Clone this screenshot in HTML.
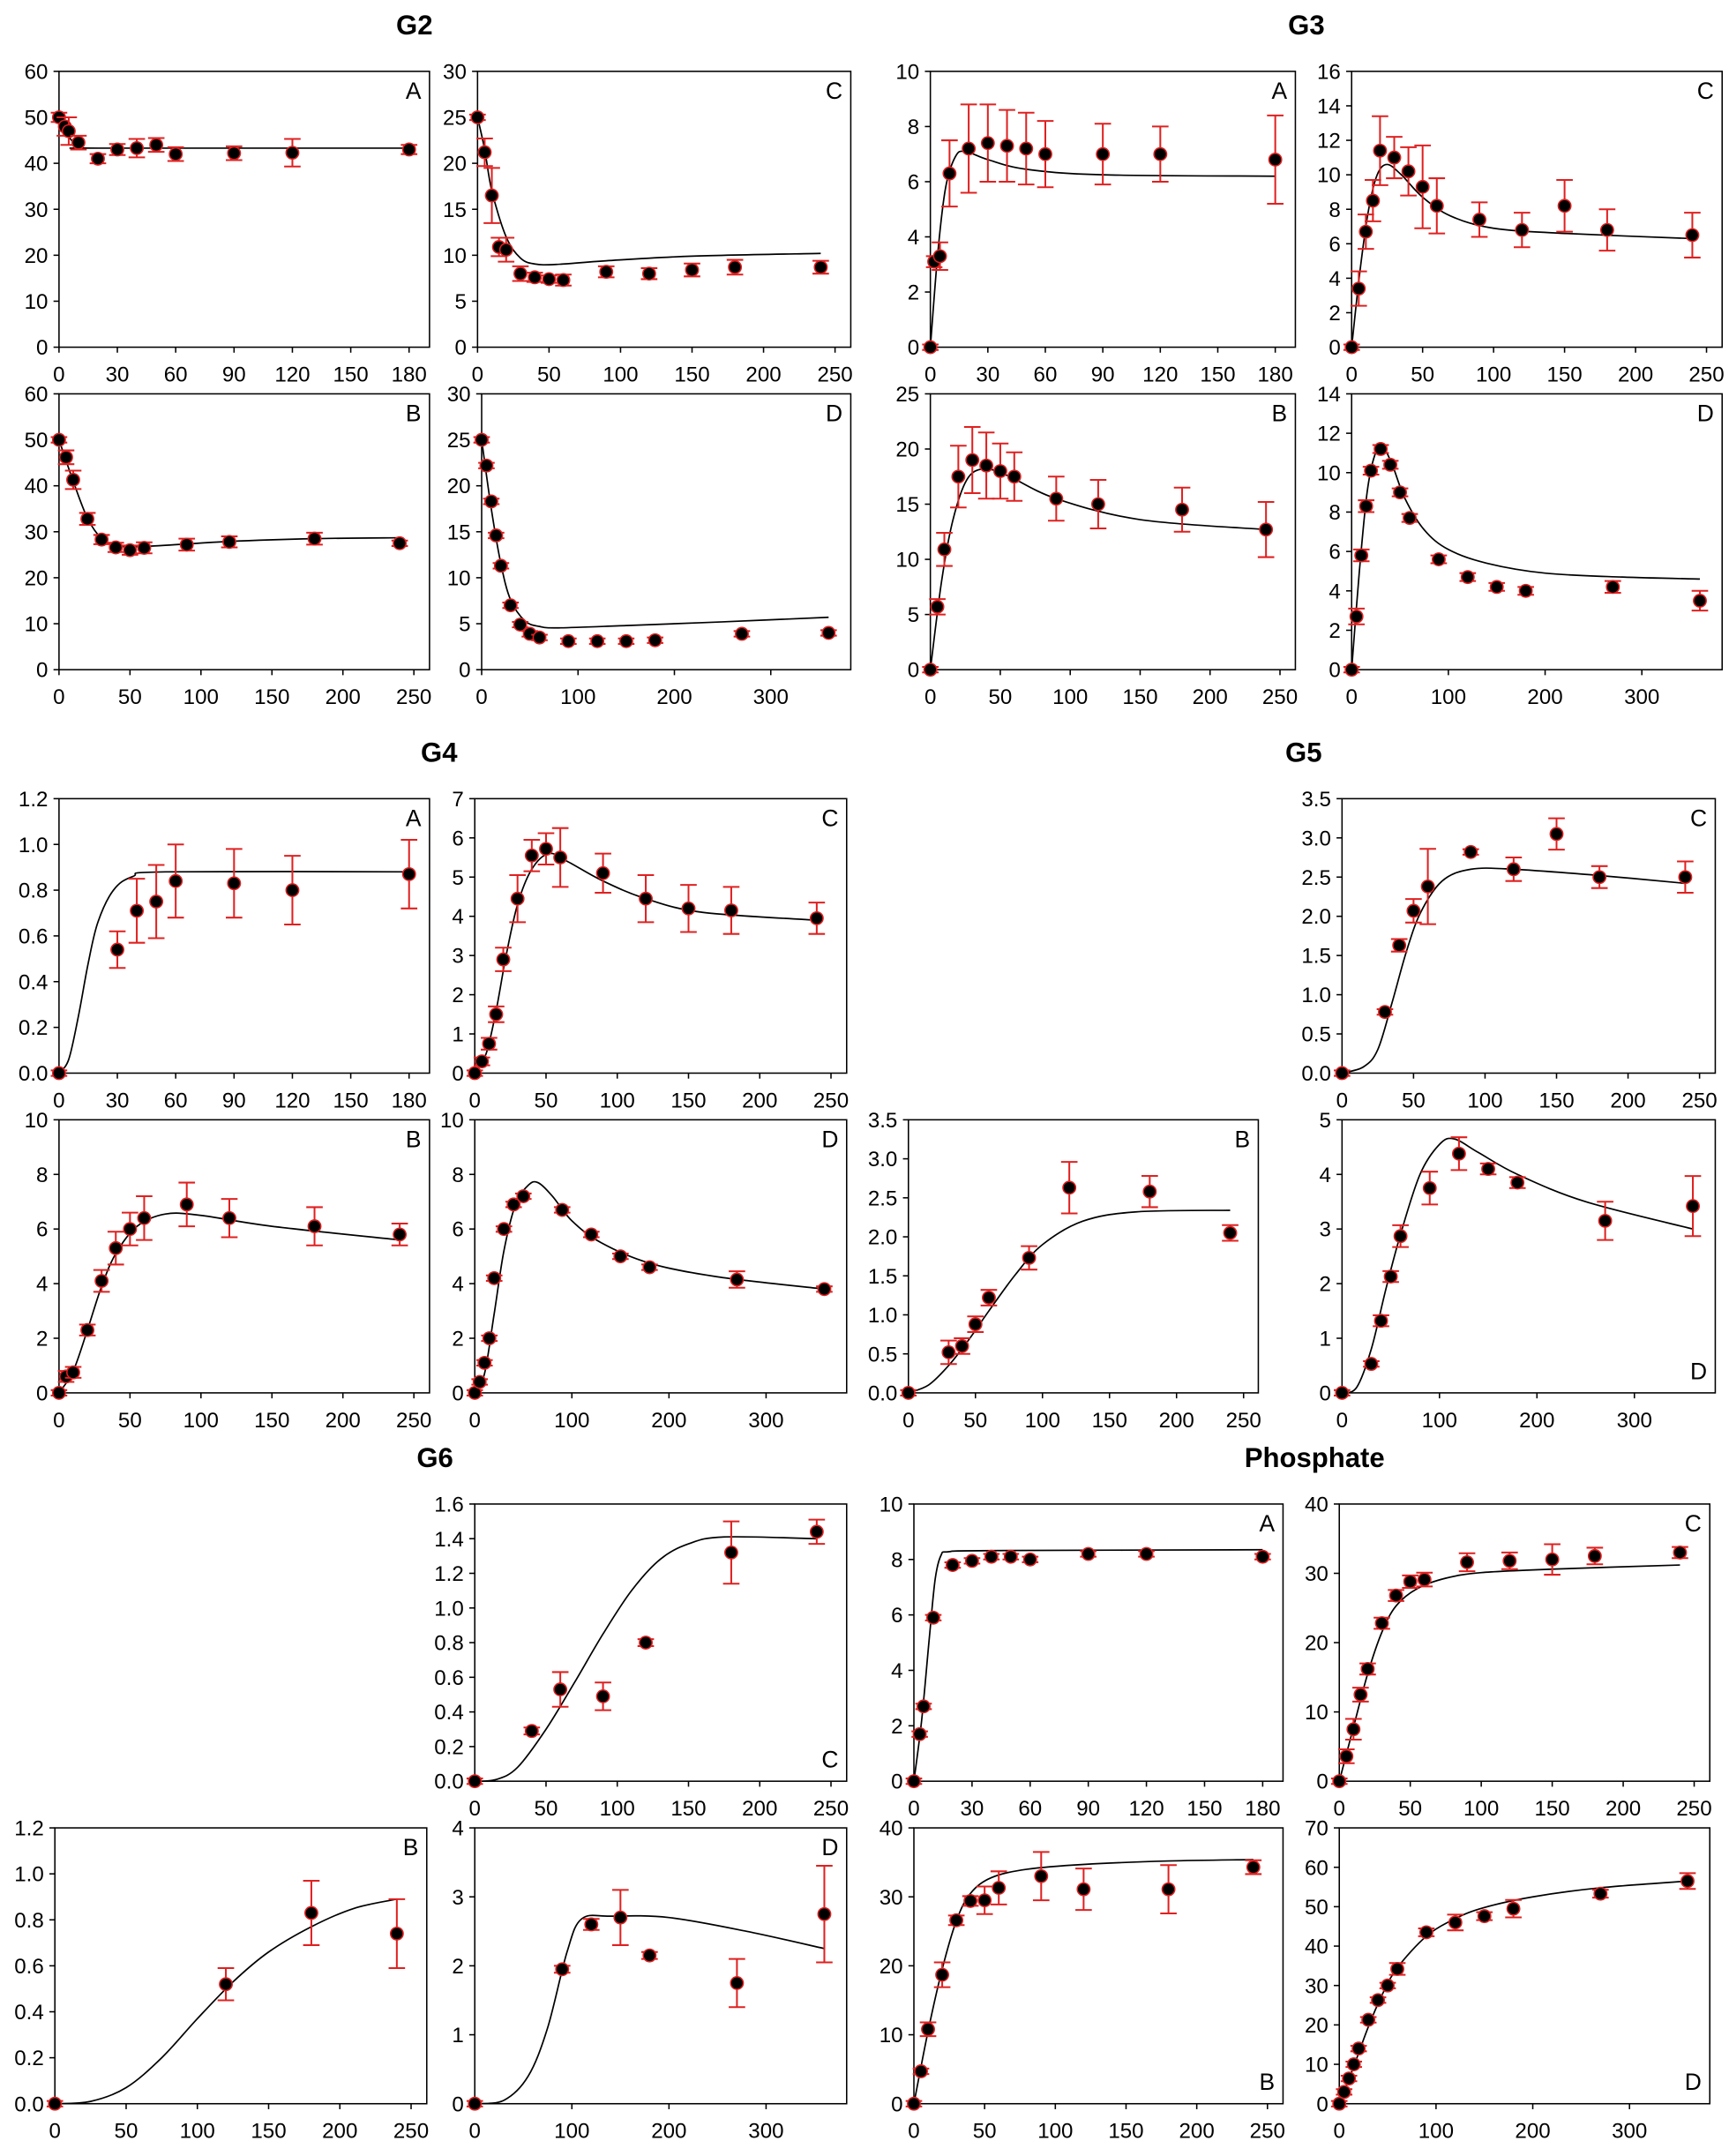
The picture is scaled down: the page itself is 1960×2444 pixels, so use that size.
<!DOCTYPE html>
<html><head><meta charset="utf-8"><style>
html,body{margin:0;padding:0;background:#fff;}
svg{display:block;}
text{font-family:"Liberation Sans",Arial,sans-serif;}
</style></head><body>
<svg id="s" xmlns="http://www.w3.org/2000/svg" width="1960" height="2444" viewBox="0 0 1260 1571.1" preserveAspectRatio="none">
<rect width="1260" height="1572" fill="#fff"/>
<text x="302" y="25" font-size="20" font-weight="bold" text-anchor="middle">G2</text>
<text x="952" y="25" font-size="20" font-weight="bold" text-anchor="middle">G3</text>
<text x="320" y="555" font-size="20" font-weight="bold" text-anchor="middle">G4</text>
<text x="950" y="555" font-size="20" font-weight="bold" text-anchor="middle">G5</text>
<text x="317" y="1069" font-size="20" font-weight="bold" text-anchor="middle">G6</text>
<text x="958" y="1069" font-size="20" font-weight="bold" text-anchor="middle">Phosphate</text>
</svg>
<script>
var S=document.getElementById('s'),out='';
function P(o){
 var x0=o.b[0],x1=o.b[1],y0=o.b[2],y1=o.b[3];
 var xm=o.xm==180?190.5:(o.xm==250?261:383);
 var X=function(v){return x0+(v/xm)*(x1-x0);},Y=function(v){return y1-(v/o.ym)*(y1-y0);};
 var s='';
 s+='<rect x="'+x0+'" y="'+y0+'" width="'+(x1-x0)+'" height="'+(y1-y0)+'" fill="none" stroke="#000" stroke-width="1"/>';
 o.xt.forEach(function(t){var xx=X(t);s+='<line x1="'+xx+'" y1="'+y1+'" x2="'+xx+'" y2="'+(y1+4)+'" stroke="#000" stroke-width="1"/><text x="'+xx+'" y="'+(y1+25)+'" font-size="15.5" text-anchor="middle">'+t+'</text>';});
 var n=Math.round(o.ym/o.ys);
 for(var i=0;i<=n;i++){var v=i*o.ys,yy=Y(v);s+='<line x1="'+(x0-4)+'" y1="'+yy+'" x2="'+x0+'" y2="'+yy+'" stroke="#000" stroke-width="1"/><text x="'+(x0-8)+'" y="'+(yy+5.5)+'" font-size="15.5" text-anchor="end">'+(o.dec?v.toFixed(1):Math.round(v))+'</text>';}
 var c=o.c.map(function(p){return [X(p[0]),Y(p[1])];});
 var d='M'+c[0][0]+','+c[0][1];
 for(var i=0;i<c.length-1;i++){var p0=c[i-1]||c[i],p1=c[i],p2=c[i+1],p3=c[i+2]||c[i+1];
  d+=' C'+(p1[0]+(p2[0]-p0[0])/6)+','+(p1[1]+(p2[1]-p0[1])/6)+' '+(p2[0]-(p3[0]-p1[0])/6)+','+(p2[1]-(p3[1]-p1[1])/6)+' '+p2[0]+','+p2[1];}
 s+='<path d="'+d+'" fill="none" stroke="#000" stroke-width="1.1"/>';
 o.p.forEach(function(p){var xx=X(p[0]),yy=Y(p[1]),e=p[2]||0.0;var eh=Math.max((e/o.ym)*(y1-y0),2);
  s+='<line x1="'+xx+'" y1="'+(yy-eh)+'" x2="'+xx+'" y2="'+(yy+eh)+'" stroke="#e02020" stroke-width="1.3"/>';
  s+='<line x1="'+(xx-6)+'" y1="'+(yy-eh)+'" x2="'+(xx+6)+'" y2="'+(yy-eh)+'" stroke="#e02020" stroke-width="1.3"/>';
  s+='<line x1="'+(xx-6)+'" y1="'+(yy+eh)+'" x2="'+(xx+6)+'" y2="'+(yy+eh)+'" stroke="#e02020" stroke-width="1.3"/>';
  s+='<circle cx="'+xx+'" cy="'+yy+'" r="4.6" fill="#000" stroke="#e02020" stroke-width="1"/>';});
 var ly=o.lb?y1-10:y0+20;
 s+='<text x="'+(x1-6)+'" y="'+ly+'" font-size="17" text-anchor="end">'+o.L+'</text>';
 out+=s;
}
var T180=[0,30,60,90,120,150,180],T250=[0,50,100,150,200,250],T360=[0,100,200,300];
var R1=[52,253],R2=[287,488],R3=[582,782],R4=[816,1015],R5=[1096,1298],R6=[1332,1533];
function B(a,b,r){return [a,b,r[0],r[1]];}
P({b:B(43,313,R1),xm:180,ym:60,ys:10,xt:T180,L:'A',
 p:[[0,50,1],[3,48,2],[5,47,3],[10,44.5,1.5],[20,41,1],[30,43,1.2],[40,43.3,2],[50,44,1.5],[60,42,1.5],[90,42.2,1.5],[120,42.3,3],[180,43,1]],
 c:[[0,50],[4,46.5],[8,44.3],[12,43.4],[20,43.3],[180,43.3]]});
P({b:B(348,620,R1),xm:250,ym:30,ys:5,xt:T250,L:'C',
 p:[[0,25,.3],[5,21.2,1.5],[10,16.5,3],[15,10.9,1],[20,10.6,1.3],[30,8,.8],[40,7.6,.5],[50,7.4,.4],[60,7.3,.6],[90,8.2,.6],[120,8,.6],[150,8.4,.7],[180,8.7,.8],[240,8.7,.7]],
 c:[[0,25],[5,21.5],[10,17],[20,12],[30,9.7],[40,9.05],[55,9],[90,9.4],[150,9.9],[240,10.2]]});
P({b:B(43,313,R2),xm:250,ym:60,ys:10,xt:T250,L:'B',
 p:[[0,50,.5],[5,46.2,1.5],[10,41.3,2],[20,32.8,1.3],[30,28.3,1],[40,26.6,1],[50,26,1],[60,26.5,1.2],[90,27.2,1.3],[120,27.8,1.2],[180,28.5,1.3],[240,27.5,.5]],
 c:[[0,50],[10,41],[20,33],[30,28.5],[40,27],[60,26.8],[120,27.9],[180,28.5],[240,28.7]]});
P({b:B(351,620,R2),xm:360,ym:30,ys:5,xt:T360,L:'D',
 p:[[0,25],[5,22.2],[10,18.3],[15,14.6],[20,11.3],[30,7],[40,4.9],[50,3.9],[60,3.5],[90,3.1],[120,3.1],[150,3.1],[180,3.2],[270,3.9],[360,4]],
 c:[[0,25],[10,17.5],[20,11.5],[30,7.6],[45,5.3],[60,4.7],[80,4.55],[150,4.8],[250,5.2],[360,5.7]]});
P({b:B(678,944,R1),xm:180,ym:10,ys:2,xt:T180,L:'A',
 p:[[0,0],[2,3.1,.2],[5,3.3,.5],[10,6.3,1.2],[20,7.2,1.6],[30,7.4,1.4],[40,7.3,1.3],[50,7.2,1.3],[60,7,1.2],[90,7,1.1],[120,7,1],[180,6.8,1.6]],
 c:[[0,0],[4,3.5],[8,5.8],[13,6.9],[18,7.1],[30,6.8],[50,6.45],[90,6.25],[180,6.2]]});
P({b:B(985,1255,R1),xm:250,ym:16,ys:2,xt:T250,L:'C',
 p:[[0,0],[5,3.4,1],[10,6.7,1],[15,8.5,1.2],[20,11.4,2],[30,11,1.2],[40,10.2,1.4],[50,9.3,2.4],[60,8.2,1.6],[90,7.4,1],[120,6.8,1],[150,8.2,1.5],[180,6.8,1.2],[240,6.5,1.3]],
 c:[[0,0],[6,4.5],[12,8],[18,10],[25,10.6],[35,10],[50,8.7],[70,7.6],[100,6.9],[150,6.6],[240,6.3]]});
P({b:B(678,944,R2),xm:250,ym:25,ys:5,xt:T250,L:'B',
 p:[[0,0],[5,5.7,.7],[10,10.9,1.5],[20,17.5,2.8],[30,19,3],[40,18.5,3],[50,18,2.5],[60,17.5,2.2],[90,15.5,2],[120,15,2.2],[180,14.5,2],[240,12.7,2.5]],
 c:[[0,0],[8,8],[16,13.5],[26,17.2],[38,18.2],[55,17.6],[90,15.5],[150,13.6],[240,12.7]]});
P({b:B(985,1255,R2),xm:360,ym:14,ys:2,xt:T360,L:'D',
 p:[[0,0],[5,2.7,.4],[10,5.8,.3],[15,8.3,.3],[20,10.1,.2],[30,11.2,.2],[40,10.4,.2],[50,9,.2],[60,7.7,.2],[90,5.6,.2],[120,4.7,.2],[150,4.2,.2],[180,4,.2],[270,4.2,.3],[360,3.5,.5]],
 c:[[0,0],[8,5],[16,9],[24,10.9],[32,11.3],[42,10.4],[55,8.7],[75,7.1],[100,6.1],[140,5.4],[200,4.9],[280,4.7],[360,4.6]]});
P({b:B(43,313,R3),xm:180,ym:1.2,ys:.2,dec:1,xt:T180,L:'A',
 p:[[0,0],[30,.54,.08],[40,.71,.14],[50,.75,.16],[60,.84,.16],[90,.83,.15],[120,.8,.15],[180,.87,.15]],
 c:[[0,0],[5,.06],[10,.25],[15,.48],[20,.66],[28,.8],[38,.86],[55,.88],[180,.88]]});
P({b:B(346,617,R3),xm:250,ym:7,ys:1,xt:T250,L:'C',
 p:[[0,0],[5,.3,.1],[10,.75,.15],[15,1.5,.2],[20,2.9,.3],[30,4.45,.6],[40,5.55,.4],[50,5.72,.4],[60,5.5,.75],[90,5.1,.5],[120,4.45,.6],[150,4.2,.6],[180,4.15,.6],[240,3.95,.4]],
 c:[[0,0],[8,.5],[15,1.6],[22,3],[30,4.3],[40,5.2],[52,5.6],[65,5.4],[90,4.9],[120,4.45],[160,4.1],[240,3.9]]});
P({b:B(43,313,R4),xm:250,ym:10,ys:2,xt:T250,L:'B',
 p:[[0,0],[5,.6,.2],[10,.75,.2],[20,2.3,.2],[30,4.1,.4],[40,5.3,.6],[50,6,.6],[60,6.4,.8],[90,6.9,.8],[120,6.4,.7],[180,6.1,.7],[240,5.8,.4]],
 c:[[0,0],[10,.8],[20,2.3],[30,3.9],[40,5.1],[55,6.1],[75,6.55],[100,6.5],[150,6.1],[240,5.6]]});
P({b:B(346,617,R4),xm:360,ym:10,ys:2,xt:T360,L:'D',
 p:[[0,0],[5,.4],[10,1.1],[15,2],[20,4.2],[30,6],[40,6.9],[50,7.2],[90,6.7],[120,5.8],[150,5],[180,4.6],[270,4.15,.3],[360,3.8]],
 c:[[0,0],[10,.7],[20,2.9],[30,5.2],[42,6.9],[55,7.6],[65,7.7],[80,7.2],[100,6.3],[130,5.5],[180,4.75],[250,4.25],[360,3.8]]});
P({b:B(978,1250,R3),xm:250,ym:3.5,ys:.5,dec:1,xt:T250,L:'C',
 p:[[0,0],[30,.78,.03],[40,1.63,.08],[50,2.07,.15],[60,2.38,.48],[90,2.82,.03],[120,2.6,.15],[150,3.05,.2],[180,2.5,.14],[240,2.5,.2]],
 c:[[0,0],[15,.08],[25,.3],[35,.9],[45,1.55],[55,2.05],[70,2.45],[90,2.6],[120,2.6],[180,2.52],[240,2.42]]});
P({b:B(662,917,R4),xm:250,ym:3.5,ys:.5,dec:1,xt:T250,L:'B',
 p:[[0,0],[30,.52,.15],[40,.6,.1],[50,.88,.1],[60,1.22,.1],[90,1.73,.15],[120,2.63,.33],[180,2.58,.2],[240,2.05,.1]],
 c:[[0,0],[15,.1],[30,.35],[45,.68],[60,1.05],[80,1.52],[100,1.9],[130,2.2],[170,2.32],[240,2.34]]});
P({b:B(978,1250,R4),xm:360,ym:5,ys:1,xt:T360,L:'D',lb:1,
 p:[[0,0],[30,.53,.05],[40,1.32,.1],[50,2.13,.1],[60,2.87,.2],[90,3.75,.3],[120,4.38,.3],[150,4.1,.1],[180,3.85,.1],[270,3.15,.35],[360,3.42,.55]],
 c:[[0,0],[15,.1],[30,.8],[45,1.9],[60,2.9],[80,4],[100,4.55],[115,4.65],[140,4.4],[180,4.0],[250,3.5],[360,3.0]]});
P({b:B(346,617,R5),xm:250,ym:1.6,ys:.2,dec:1,xt:T250,L:'C',lb:1,
 p:[[0,0],[40,.29,.02],[60,.53,.1],[90,.49,.08],[120,.8,.02],[180,1.32,.18],[240,1.44,.07]],
 c:[[0,0],[15,.01],[30,.08],[50,.3],[70,.57],[90,.85],[110,1.1],[130,1.28],[150,1.37],[175,1.41],[240,1.4]]});
P({b:B(40,311,R6),xm:250,ym:1.2,ys:.2,dec:1,xt:T250,L:'B',
 p:[[0,0],[120,.52,.07],[180,.83,.14],[240,.74,.15]],
 c:[[0,0],[25,.01],[50,.07],[75,.2],[100,.37],[125,.53],[150,.66],[180,.77],[210,.85],[240,.89]]});
P({b:B(346,617,R6),xm:360,ym:4,ys:1,xt:T360,L:'D',
 p:[[0,0],[90,1.95,.05],[120,2.6,.08],[150,2.7,.4],[180,2.15,.05],[270,1.75,.35],[360,2.75,.7]],
 c:[[0,0],[30,.05],[55,.4],[75,1.1],[95,2.2],[110,2.68],[140,2.72],[200,2.7],[280,2.5],[360,2.25]]});
P({b:B(666,935,R5),xm:180,ym:10,ys:2,xt:T180,L:'A',
 p:[[0,0],[3,1.7],[5,2.7],[10,5.9],[20,7.8],[30,7.95],[40,8.1],[50,8.1],[60,8],[90,8.2],[120,8.2],[180,8.1]],
 c:[[0,0],[4,2.2],[8,5.2],[11,7.3],[14,8.15],[18,8.28],[40,8.32],[180,8.35]]});
P({b:B(976,1246,R5),xm:250,ym:40,ys:10,xt:T250,L:'C',
 p:[[0,0],[5,3.6,1],[10,7.5,1.5],[15,12.5,1],[20,16.2,.8],[30,22.8,.8],[40,26.8,.8],[50,28.8,.9],[60,29.1,1],[90,31.6,1.3],[120,31.8,1.2],[150,32,2.2],[180,32.5,1.2],[240,33,.8]],
 c:[[0,0],[10,7.8],[20,15.5],[30,21.5],[40,25.3],[55,27.8],[75,29.3],[100,30.1],[150,30.6],[240,31.2]]});
P({b:B(666,935,R6),xm:250,ym:40,ys:10,xt:T250,L:'B',lb:1,
 p:[[0,0],[5,4.7],[10,10.8,1],[20,18.7,1.8],[30,26.6,.7],[40,29.4,.7],[50,29.5,2],[60,31.3,2.4],[90,33,3.5],[120,31.1,3],[180,31.1,3.5],[240,34.3,1]],
 c:[[0,0],[10,10.5],[20,19.5],[30,26.5],[40,30.5],[55,32.8],[80,34],[120,34.7],[180,35.2],[240,35.4]]});
P({b:B(976,1246,R6),xm:360,ym:70,ys:10,xt:T360,L:'D',lb:1,
 p:[[0,0],[5,3],[10,6.4],[15,10],[20,14],[30,21.3],[40,26.3],[50,30],[60,34.2,1.5],[90,43.5,1],[120,46,2],[150,47.6,1],[180,49.5,2.2],[270,53.3,1],[360,56.5,2]],
 c:[[0,0],[15,9.5],[30,19.5],[45,28],[60,34.5],[90,42.5],[120,47],[150,49.8],[200,52.5],[270,54.8],[360,56.5]]});
S.insertAdjacentHTML('beforeend',out);
</script>
</body></html>
